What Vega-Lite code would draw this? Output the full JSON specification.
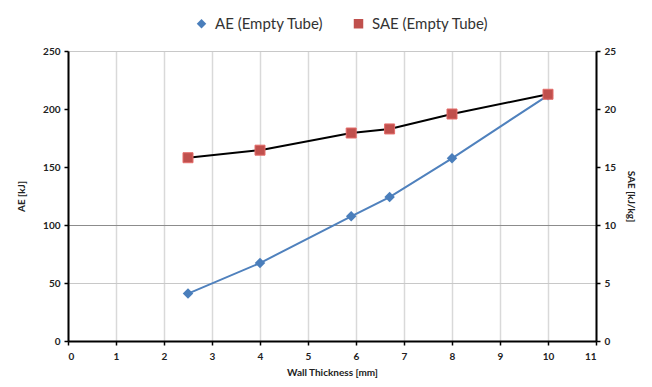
{
  "$schema": "https://vega.github.io/schema/vega-lite/v6.json",
  "width": 528,
  "height": 290,
  "autosize": {"type": "none"},
  "padding": {"left": 68, "top": 51, "right": 56, "bottom": 46},
  "background": "white",
  "config": {
    "view": {"stroke": null},
    "font": "Lato",
    "axis": {
      "labelFont": "Lato",
      "labelFontWeight": "bold",
      "labelFontSize": 10,
      "labelColor": "#222",
      "titleFont": "Lato",
      "titleFontSize": 10,
      "titleFontWeight": "bold",
      "titleColor": "#222",
      "domainColor": "#000",
      "domainWidth": 2,
      "tickColor": "#000",
      "tickWidth": 1.5,
      "tickSize": 4
    }
  },
  "data": {
    "values": [
      {"t": 2.5, "ae": 40.9, "sae": 15.8},
      {"t": 4.0, "ae": 67.2, "sae": 16.45},
      {"t": 5.9, "ae": 107.5, "sae": 17.93},
      {"t": 6.7, "ae": 124.1, "sae": 18.28},
      {"t": 8.0, "ae": 157.5, "sae": 19.57},
      {"t": 10.0, "ae": 211.8, "sae": 21.27}
    ]
  },
  "encoding": {
    "x": {
      "field": "t",
      "type": "quantitative",
      "scale": {"domain": [0, 11], "nice": false},
      "axis": {
        "title": "Wall Thickness [mm]",
        "values": [0, 1, 2, 3, 4, 5, 6, 7, 8, 9, 10, 11],
        "format": "d",
        "grid": true,
        "gridColor": "#d9d9d9",
        "gridWidth": 1.5,
        "labelPadding": 6,
        "titlePadding": 6
      }
    }
  },
  "layer": [
    {
      "encoding": {
        "y": {
          "field": "ae",
          "type": "quantitative",
          "scale": {"domain": [0, 250], "nice": false},
          "axis": {
            "title": "AE [kJ]",
            "orient": "left",
            "values": [0, 50, 100, 150, 200, 250],
            "grid": true,
            "gridColor": {"condition": {"test": "datum.value == 100", "value": "#8c8c8c"}, "value": "#c8c8c8"},
            "gridOpacity": {"condition": {"test": "datum.value == 0 || datum.value == 150 || datum.value == 200", "value": 0}, "value": 1},
            "gridWidth": 1.2,
            "labelPadding": 4,
            "titlePadding": 16
          }
        }
      },
      "layer": [
        {
          "mark": {"type": "line", "color": "#4f81bd", "strokeWidth": 2},
          "encoding": {}
        },
        {
          "mark": {"type": "point", "filled": true, "size": 110, "opacity": 1},
          "encoding": {
            "fill": {
              "datum": "AE (Empty Tube)",
              "type": "nominal",
              "scale": {"domain": ["AE (Empty Tube)", "SAE (Empty Tube)"], "range": ["#4a7ebb", "#c0504d"]},
              "legend": {
                "orient": "none",
                "legendX": 126,
                "legendY": -35,
                "direction": "horizontal",
                "title": null,
                "labelFont": "Lato",
                "labelFontSize": 15,
                "labelColor": "#333",
                "labelOffset": 6,
                "columnPadding": 26,
                "symbolSize": 90
              }
            },
            "shape": {
              "datum": "AE (Empty Tube)",
              "type": "nominal",
              "scale": {"domain": ["AE (Empty Tube)", "SAE (Empty Tube)"], "range": ["diamond", "square"]}
            }
          }
        }
      ]
    },
    {
      "encoding": {
        "y": {
          "field": "sae",
          "type": "quantitative",
          "scale": {"domain": [0, 25], "nice": false},
          "axis": {
            "title": "SAE [kJ/kg]",
            "orient": "right",
            "values": [0, 5, 10, 15, 20, 25],
            "grid": false,
            "labelPadding": 4,
            "titlePadding": 10
          }
        }
      },
      "layer": [
        {
          "mark": {"type": "line", "color": "#000000", "strokeWidth": 2},
          "encoding": {}
        },
        {
          "mark": {"type": "point", "filled": true, "size": 100, "opacity": 1, "stroke": "#e46c6a", "strokeWidth": 1},
          "encoding": {
            "fill": {"datum": "SAE (Empty Tube)", "type": "nominal"},
            "shape": {"datum": "SAE (Empty Tube)", "type": "nominal"}
          }
        }
      ]
    }
  ],
  "resolve": {"scale": {"y": "independent"}}
}
